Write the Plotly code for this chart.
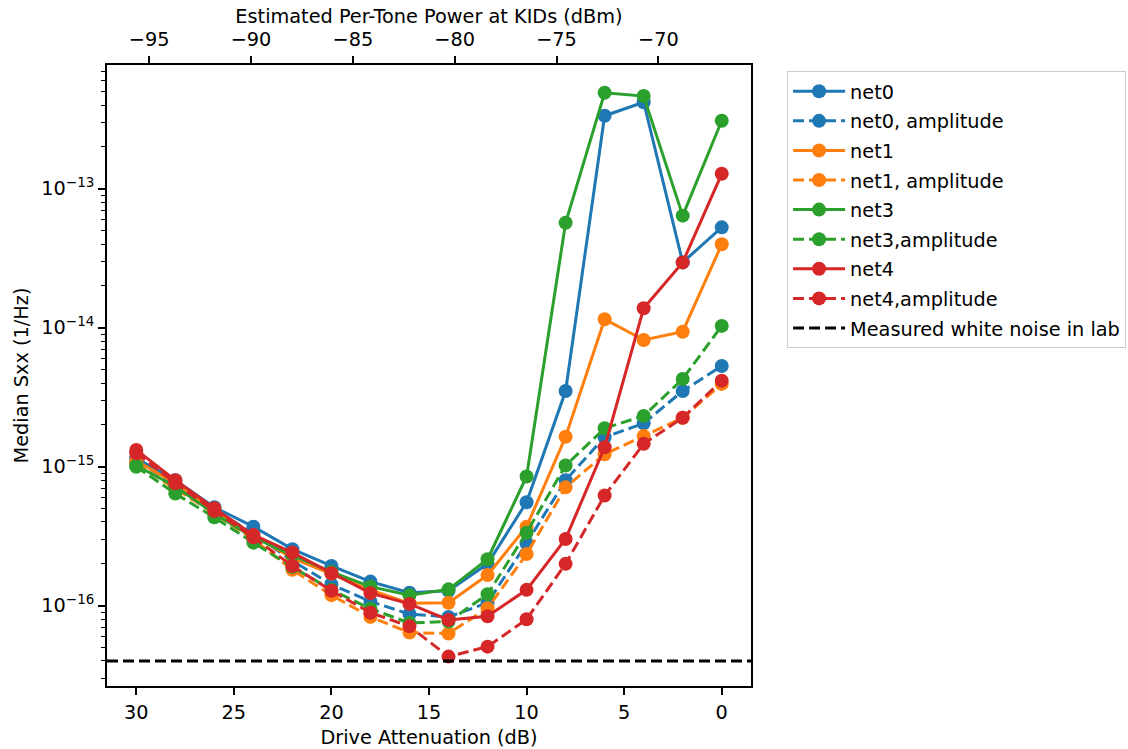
import plotly.graph_objects as go

# Drive attenuation settings (dB)
attenuation = [30, 28, 26, 24, 22, 20, 18, 16, 14, 12, 10, 8, 6, 4, 2, 0]

# Median Sxx (1/Hz) per network, full and amplitude-only
net0 = [1.15e-15, 8.0e-16, 5.1e-16, 3.7e-16, 2.55e-16, 1.93e-16, 1.49e-16, 1.24e-16,
        1.28e-16, 2.0e-16, 5.55e-16, 3.5e-15, 3.35e-13, 4.19e-13, 2.95e-14, 5.27e-14]
net0_amp = [1.1e-15, 7.5e-16, 4.9e-16, 3.3e-16, 2.1e-16, 1.42e-16, 1.07e-16, 8.7e-17,
            8.3e-17, 1.05e-16, 2.81e-16, 8.0e-16, 1.63e-15, 2.05e-15, 3.5e-15, 5.3e-15]
net1 = [1.1e-15, 7.6e-16, 4.8e-16, 3.2e-16, 2.2e-16, 1.7e-16, 1.3e-16, 1.04e-16,
        1.05e-16, 1.66e-16, 3.7e-16, 1.64e-15, 1.15e-14, 8.15e-15, 9.36e-15, 3.98e-14]
net1_amp = [1.05e-15, 7.0e-16, 4.6e-16, 3.0e-16, 1.81e-16, 1.19e-16, 8.3e-17, 6.4e-17,
            6.3e-17, 9.6e-17, 2.35e-16, 7.1e-16, 1.23e-15, 1.66e-15, 2.25e-15, 3.94e-15]
net3 = [1.02e-15, 7.2e-16, 4.6e-16, 3.1e-16, 2.3e-16, 1.75e-16, 1.37e-16, 1.19e-16,
        1.31e-16, 2.16e-16, 8.5e-16, 5.69e-14, 4.9e-13, 4.64e-13, 6.4e-14, 3.08e-13]
net3_amp = [1.0e-15, 6.4e-16, 4.32e-16, 2.84e-16, 1.9e-16, 1.3e-16, 9.5e-17, 7.5e-17,
            7.7e-17, 1.21e-16, 3.35e-16, 1.02e-15, 1.89e-15, 2.32e-15, 4.28e-15, 1.03e-14]
net4 = [1.32e-15, 8.0e-16, 5.02e-16, 3.23e-16, 2.41e-16, 1.71e-16, 1.23e-16, 1.03e-16,
        7.9e-17, 8.4e-17, 1.3e-16, 3.02e-16, 1.38e-15, 1.38e-14, 2.95e-14, 1.28e-13]
net4_amp = [1.25e-15, 7.6e-16, 4.8e-16, 3.1e-16, 1.93e-16, 1.28e-16, 8.9e-17, 7.1e-17,
            4.3e-17, 5.07e-17, 7.98e-17, 2.0e-16, 6.2e-16, 1.46e-15, 2.25e-15, 4.16e-15]

white_noise = 4.0e-17

series = [
    ("net0", net0, "#1f77b4", "solid"),
    ("net0, amplitude", net0_amp, "#1f77b4", "11px,5px"),
    ("net1", net1, "#ff7f0e", "solid"),
    ("net1, amplitude", net1_amp, "#ff7f0e", "11px,5px"),
    ("net3", net3, "#2ca02c", "solid"),
    ("net3,amplitude", net3_amp, "#2ca02c", "11px,5px"),
    ("net4", net4, "#d62728", "solid"),
    ("net4,amplitude", net4_amp, "#d62728", "11px,5px"),
]

# Axis ranges and tick labels
x_range = [31.5, -1.5]
power_range = [-97.07, -65.45]
power_ticks = [-95, -90, -85, -80, -75, -70]
y_log_range = [-16.578, -12.11]
y_ticks = [1e-16, 1e-15, 1e-14, 1e-13]
y_ticktext = ["10<sup>\u221216</sup>", "10<sup>\u221215</sup>",
              "10<sup>\u221214</sup>", "10<sup>\u221213</sup>"]

FONT = "DejaVu Sans"
FS = 19.3
fig = go.Figure()

for i, (name, vals, color, dash) in enumerate(series):
    fig.add_trace(go.Scatter(
        x=attenuation, y=vals, name=name, mode="lines+markers",
        legendgroup=f"g{i}",
        line=dict(color=color, width=3, dash=dash),
        marker=dict(color=color, size=14, symbol="circle", line=dict(width=0)),
        cliponaxis=False,
    ))

# Lab white-noise level across the full width of the axes
fig.add_shape(
    type="line", xref="x domain", x0=0, x1=1, yref="y", y0=white_noise, y1=white_noise,
    line=dict(color="black", width=3, dash="11px,5px"),
    name="Measured white noise in lab", showlegend=True, legendgroup="noise",
    layer="above",
)

# Anchor trace so the secondary (top) power axis is drawn
fig.add_trace(go.Scatter(
    x=[power_ticks[0]], y=[y_ticks[0]], xaxis="x2", mode="markers",
    marker=dict(opacity=0), showlegend=False, hoverinfo="skip",
))

axis_common = dict(
    showline=True, linecolor="black", linewidth=1.6,
    ticks="outside", ticklen=7, tickwidth=1.6, tickcolor="black",
    showgrid=False, zeroline=False,
    tickfont=dict(family=FONT, size=FS, color="black"),
)

fig.update_layout(
    width=1128, height=749,
    paper_bgcolor="white", plot_bgcolor="white",
    margin=dict(l=107, r=377, t=65, b=63, autoexpand=False),
    font=dict(family=FONT, size=FS, color="black"),
    xaxis=dict(
        range=x_range, tickvals=[30, 25, 20, 15, 10, 5, 0],
        ticklabelstandoff=1,
        title=dict(text="Drive Attenuation (dB)", font=dict(family=FONT, size=FS), standoff=14),
        **axis_common,
    ),
    xaxis2=dict(
        range=power_range, overlaying="x", side="top", anchor="y",
        tickvals=power_ticks, ticklabelstandoff=2,
        title=dict(text="Estimated Per-Tone Power at KIDs (dBm)", font=dict(family=FONT, size=FS), standoff=0),
        **axis_common,
    ),
    yaxis=dict(
        type="log", range=y_log_range, tickvals=y_ticks, ticktext=y_ticktext,
        mirror=True,
        minor=dict(ticks="outside", ticklen=4, tickwidth=1.2, tickcolor="black", dtick="D1", showgrid=False),
        title=dict(text="Median Sxx (1/Hz)", font=dict(family=FONT, size=FS), standoff=8),
        **axis_common,
    ),
    legend=dict(
        x=1.056, y=0.99, xanchor="left", yanchor="top",
        bgcolor="rgba(255,255,255,0.8)", bordercolor="#cccccc", borderwidth=1,
        font=dict(family=FONT, size=FS, color="black"),
        tracegroupgap=1.5, itemwidth=52,
    ),
    showlegend=True,
)

fig.write_html("out.html")
